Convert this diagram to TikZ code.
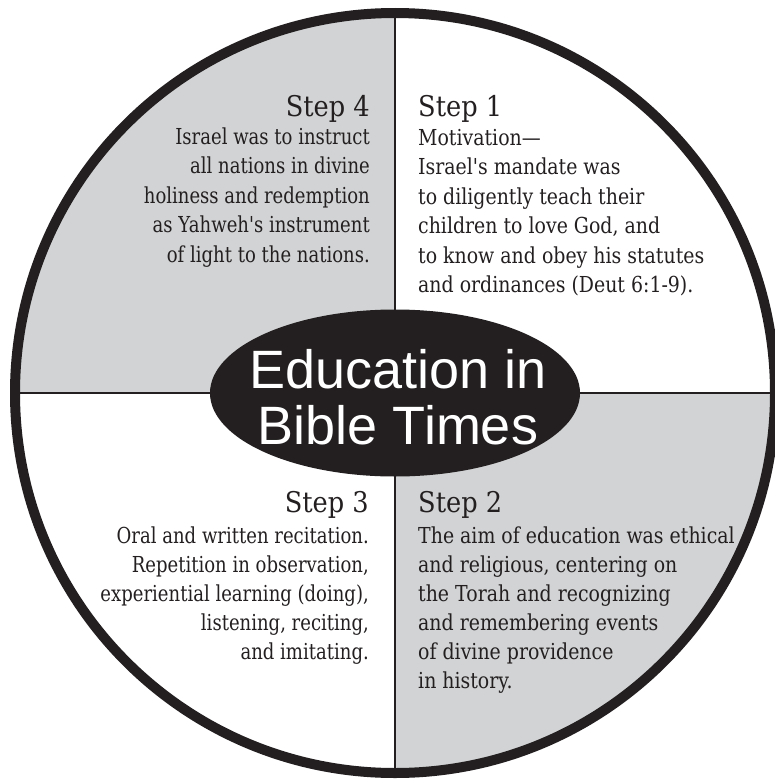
\documentclass[tikz,border=0pt]{standalone}
\usepackage{fontspec}
\newfontfamily\headfont[FakeStretch=0.9]{DejaVu Serif}
\newfontfamily\bodyfont[FakeStretch=0.86]{DejaVu Serif}
\newfontfamily\bodyfontnarrow[FakeStretch=0.82]{DejaVu Serif}
\newfontfamily\titlefont{Liberation Sans}
\definecolor{quadgray}{HTML}{D1D3D4}
\definecolor{inkdark}{HTML}{231F20}
\begin{document}
\begin{tikzpicture}[x=1pt,y=-1pt,
  heading/.style={inner sep=0pt,font=\headfont\fontsize{28.5}{30}\selectfont,text=inkdark},
  bodyline/.style={inner sep=0pt,font=\bodyfont\fontsize{22}{24}\selectfont,text=inkdark},
  bodylinenarrow/.style={inner sep=0pt,font=\bodyfontnarrow\fontsize{22}{24}\selectfont,text=inkdark},
  divider/.style={draw=inkdark,line width=2pt},
  rim/.style={draw=inkdark,line width=10pt}]
\useasboundingbox (0,0) rectangle (775,779);
\coordinate (c) at (395,393);
% quadrants
\fill[quadgray] (c) -- (15,393) arc[start angle=180,end angle=270,radius=380] -- cycle;
\fill[quadgray] (c) -- (775,393) arc[start angle=0,end angle=90,radius=380] -- cycle;
% dividers
\coordinate (top) at (395,13);
\coordinate (bot) at (395,773);
\coordinate (lft) at (15,393);
\coordinate (rgt) at (775,393);
\draw[divider] (top) -- (bot);
\draw[divider] (lft) -- (rgt);
% rim
\draw[rim] (c) circle[radius=380];
% centre ellipse
\fill[inkdark] (c) ellipse[x radius=185,y radius=83.5];
\node[inner sep=0pt,anchor=base,text=white,font=\titlefont\fontsize{54}{56}\selectfont] (t1) at (398,388) {Education in};
\node[inner sep=0pt,anchor=base,text=white,font=\titlefont\fontsize{54}{56}\selectfont] (t2) at (398,444) {Bible Times};
% Step 1
\node[heading,anchor=base west] (h1) at (418,116) {Step 1};
\foreach \t [count=\i from 0] in {Motivation—,Israel's mandate was,to diligently teach their,{children to love God, and},to know and obey his statutes,and ordinances (Deut 6:1-9).}
  \node[bodyline,anchor=base west] (s1l\i) at (418,145+29.5*\i) {\t};
% Step 4
\node[heading,anchor=base east] (h4) at (370,116) {Step 4};
\foreach \t [count=\i from 0] in {Israel was to instruct,all nations in divine,holiness and redemption,as Yahweh's instrument,of light to the nations.}
  \node[bodylinenarrow,anchor=base east] (s4l\i) at (370,144+29.5*\i) {\t};
% Step 3
\node[heading,anchor=base east] (h3) at (369,512) {Step 3};
\foreach \t [count=\i from 0] in {Oral and written recitation.,{Repetition in observation,},{experiential learning (doing),},{listening, reciting,},and imitating.}
  \node[bodylinenarrow,anchor=base east] (s3l\i) at (369,543+29.2*\i) {\t};
% Step 2
\node[heading,anchor=base west] (h2) at (418,512) {Step 2};
\foreach \t [count=\i from 0] in {The aim of education was ethical,{and religious, centering on},the Torah and recognizing,and remembering events,of divine providence,in history.}
  \node[bodyline,anchor=base west] (s2l\i) at (418,543+29*\i) {\t};
\end{tikzpicture}
\end{document}
